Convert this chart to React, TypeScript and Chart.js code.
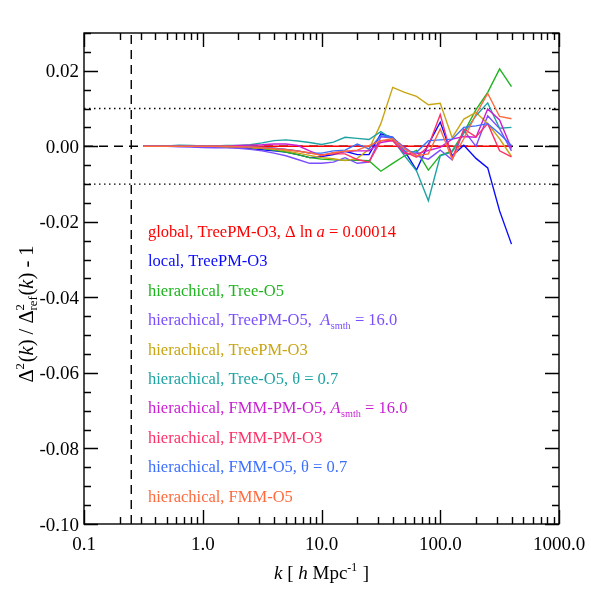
import React, { useEffect, useRef } from "react";
import { Chart, registerables } from "chart.js";

Chart.register(...registerables);

// k [h/Mpc] sampling of the measured ratios
const kValues = [
  0.316, 0.398, 0.501, 0.631, 0.794, 1.0, 1.26, 1.58, 2.0, 2.51, 3.16, 3.98, 5.01, 6.31, 7.94, 10.0,
  12.6, 15.8, 20.0, 25.1, 31.6, 39.8, 50.1, 63.1, 79.4, 100.0, 126.0, 158.0, 200.0, 251.0, 316.0, 398.0,
];

const globalTreePMO3 = [
  0, 0, 0, 0, 0, 0, 0, 0, 0, 0, 0, 0, 0, 0, 0, 0,
  0, 0, 0, 0, 0, 0, 0, 0, 0, 0, 0, 0, 0, 0, 0, 0,
];
const localTreePMO3 = [
  0, 0, 0, 0, 0, -0.0001, -0.0001, -0.0002, -0.0003, -0.0006, -0.0009, -0.0012, -0.0015, -0.0022, -0.003, -0.0027,
  -0.0022, -0.0013, -0.0022, -0.0022, 0.0033, 0.0024, -0.0012, -0.0063, 0.0005, 0.0064, -0.0025, 0.0003, -0.0032, -0.0057, -0.0171, -0.0259,
];
const hierTreeO5 = [
  0, 0, 0, 0, 0, 0, -0.0001, -0.0001, -0.0002, -0.0003, -0.0006, -0.001, -0.0015, -0.0022, -0.003, -0.0034,
  -0.0036, -0.0037, -0.0037, -0.0038, -0.0066, -0.0045, -0.0025, -0.0011, -0.0063, -0.0024, -0.0012, 0.0037, 0.0097, 0.0143, 0.0205, 0.0158,
];
const hierTreePMO5 = [
  0, 0, 0, -0.0001, -0.0002, -0.0003, -0.0004, -0.0004, -0.0005, -0.0008, -0.0012, -0.0018, -0.0025, -0.0035, -0.0045, -0.0045,
  -0.0042, -0.003, -0.0045, -0.0042, 0.0025, 0.0022, -0.0003, -0.0025, -0.0034, -0.001, -0.0036, 0.0042, 0.0, 0.0081, 0.0047, -0.0012,
];
const hierTreePMO3 = [
  0, 0, 0, 0, 0, 0, 0, -0.0001, -0.0002, -0.0003, -0.0005, -0.0008, -0.0012, -0.0018, -0.0024, -0.003,
  -0.0033, -0.0038, -0.0032, -0.0008, 0.006, 0.0156, 0.0143, 0.0132, 0.011, 0.0114, 0.0023, 0.0072, 0.009, 0.006, 0.002, -0.0027,
];
const hierTreeO5Theta = [
  0, 0, 0.0001, 0.0003, 0.0002, 0.0001, 0.0001, 0.0002, 0.0002, 0.0004, 0.0009, 0.0015, 0.0017, 0.0014, 0.001, 0.0005,
  0.0011, 0.0024, 0.0021, 0.0018, 0.0039, 0.0018, -0.0025, -0.0065, -0.0144, -0.0025, -0.0015, 0.0035, 0.0081, 0.0115, 0.0048, 0.005,
];
const hierFMMPMO5 = [
  0, 0, 0, 0, 0, 0, 0, 0.0001, 0.0002, 0.0003, 0.0004, 0.0006, 0.0006, 0.0002, -0.0012, -0.0025,
  -0.0017, -0.0014, -0.0012, -0.0012, 0.001, 0.0015, -0.0019, -0.002, -0.0011, -0.0003, 0.0019, 0.0026, 0.0024, 0.0099, 0.007, -0.0006,
];
const hierFMMPMO3 = [
  0, 0, 0, 0, 0, 0, 0, 0, -0.0001, -0.0002, -0.0003, -0.0005, -0.0008, -0.0012, -0.0018, -0.0022,
  -0.002, -0.002, -0.0035, -0.0042, 0.0015, 0.0015, -0.0015, -0.0029, 0.0, 0.0084, -0.0032, 0.0046, 0.0025, 0.006, -0.0012, -0.0028,
];
const hierFMMO5Theta = [
  0, 0, 0, 0, 0, 0, 0, 0, -0.0001, -0.0002, -0.0003, -0.0005, -0.0008, -0.0012, -0.0018, -0.0018,
  -0.0012, -0.001, 0.0006, -0.0007, 0.0028, 0.0024, -0.0012, -0.0016, 0.0015, 0.0017, 0.0019, 0.005, 0.0054, 0.006, 0.0033, 0.0002,
];
const hierFMMO5 = [
  0, 0, 0, 0, 0, 0, 0, 0, -0.0001, -0.0002, -0.0004, -0.0006, -0.0009, -0.0013, -0.0017, -0.0024,
  -0.0017, -0.0013, -0.001, 0.0002, 0.0015, 0.002, -0.0007, -0.0025, -0.002, 0.0046, -0.0034, 0.002, 0.0085, 0.014, 0.0079, 0.0073,
];

const seriesValues = [
  globalTreePMO3, localTreePMO3, hierTreeO5, hierTreePMO5, hierTreePMO3,
  hierTreeO5Theta, hierFMMPMO5, hierFMMPMO3, hierFMMO5Theta, hierFMMO5,
];
const seriesColors = [
  "#ff0000", "#0a0aff", "#1fb41f", "#7a4dff", "#c9a512",
  "#1fa3a3", "#c81fd2", "#ff2f66", "#3d6fff", "#ff6a3d",
];

type Seg = { t: string; it?: boolean; sup?: string; sub?: string };

const legendLabels: Seg[][] = [
  [{ t: "global, TreePM-O3, \u0394 ln " }, { t: "a", it: true }, { t: " = 0.00014" }],
  [{ t: "local, TreePM-O3" }],
  [{ t: "hierachical, Tree-O5" }],
  [{ t: "hierachical, TreePM-O5,  " }, { t: "A", it: true, sub: "smth" }, { t: " = 16.0" }],
  [{ t: "hierachical, TreePM-O3" }],
  [{ t: "hierachical, Tree-O5, \u03b8 = 0.7" }],
  [{ t: "hierachical, FMM-PM-O5, " }, { t: "A", it: true, sub: "smth" }, { t: " = 16.0" }],
  [{ t: "hierachical, FMM-PM-O3" }],
  [{ t: "hierachical, FMM-O5, \u03b8 = 0.7" }],
  [{ t: "hierachical, FMM-O5" }],
];

const yTickValues = [0.02, 0.0, -0.02, -0.04, -0.06, -0.08, -0.1];
const yTickLabels = ["0.02", "0.00", "-0.02", "-0.04", "-0.06", "-0.08", "-0.10"];
const xTickValues = [0.1, 1, 10, 100, 1000];
const xTickLabels = ["0.1", "1.0", "10.0", "100.0", "1000.0"];

const xTitle: Seg[] = [{ t: "k", it: true }, { t: " [ " }, { t: "h", it: true }, { t: " Mpc", sup: "-1" }, { t: " ]" }];
const yTitle: Seg[] = [
  { t: "\u0394", sup: "2" }, { t: "(" }, { t: "k", it: true }, { t: ") / \u0394", sup: "2", sub: "ref" },
  { t: "(" }, { t: "k", it: true }, { t: ") - 1" },
];

const refLineX = 0.25;
const refDotted = [0.01, -0.01];

const FAMILY = '"Liberation Serif", "Times New Roman", serif';
const fontOf = (size: number, it?: boolean) => `${it ? "italic " : ""}${size}px ${FAMILY}`;

function segWidth(ctx: CanvasRenderingContext2D, s: Seg, size: number) {
  ctx.font = fontOf(size, s.it);
  const w = ctx.measureText(s.t).width;
  ctx.font = fontOf(size * 0.62);
  const ws = Math.max(s.sup ? ctx.measureText(s.sup).width : 0, s.sub ? ctx.measureText(s.sub).width : 0);
  return w + (ws ? ws + size * 0.04 : 0);
}

function drawRich(
  ctx: CanvasRenderingContext2D, segs: Seg[], x: number, y: number, size: number, color: string,
  align: "left" | "center"
) {
  const total = segs.reduce((a, s) => a + segWidth(ctx, s, size), 0);
  let cx = align === "center" ? x - total / 2 : x;
  ctx.fillStyle = color;
  ctx.textAlign = "left";
  ctx.textBaseline = "alphabetic";
  for (const s of segs) {
    ctx.font = fontOf(size, s.it);
    ctx.fillText(s.t, cx, y);
    const w = ctx.measureText(s.t).width;
    const sx = cx + w + (s.it ? size * 0.03 : 0);
    ctx.font = fontOf(size * 0.62);
    if (s.sup) ctx.fillText(s.sup, sx, y - size * 0.42);
    if (s.sub) ctx.fillText(s.sub, sx, y + size * 0.2);
    cx += segWidth(ctx, s, size);
  }
}

const framePlugin = {
  id: "idlFrame",
  afterDraw(chart: any) {
    const ctx: CanvasRenderingContext2D = chart.ctx;
    const { left, right, top, bottom } = chart.chartArea;
    const xs = chart.scales.x;
    const ys = chart.scales.y;
    ctx.save();
    ctx.strokeStyle = "#000";
    ctx.lineWidth = 1.4;
    ctx.strokeRect(left, top, right - left, bottom - top);

    // y ticks (left and right, pointing inward)
    for (let v = -0.1; v <= 0.03001; v += 0.005) {
      const yy = Math.round(ys.getPixelForValue(v)) + 0.5;
      const major = Math.abs(Math.round(v * 1000) % 20) === 0;
      const len = major ? 14 : 7;
      ctx.beginPath();
      ctx.moveTo(left, yy); ctx.lineTo(left + len, yy);
      ctx.moveTo(right, yy); ctx.lineTo(right - len, yy);
      ctx.stroke();
    }
    // x ticks (top and bottom, log)
    for (let d = 0.1; d < 1000.5; d *= 10) {
      for (let m = 1; m <= 9; m++) {
        const v = d * m;
        if (v > 1000.5) break;
        const xx = Math.round(xs.getPixelForValue(v)) + 0.5;
        const len = m === 1 ? 14 : 7;
        ctx.beginPath();
        ctx.moveTo(xx, bottom); ctx.lineTo(xx, bottom - len);
        ctx.moveTo(xx, top); ctx.lineTo(xx, top + len);
        ctx.stroke();
      }
    }

    // tick labels
    ctx.fillStyle = "#000";
    ctx.font = fontOf(19);
    ctx.textAlign = "right";
    ctx.textBaseline = "alphabetic";
    yTickValues.forEach((v, i) => {
      ctx.fillText(yTickLabels[i], left - 5, ys.getPixelForValue(v) + 6.5);
    });
    ctx.textAlign = "center";
    xTickValues.forEach((v, i) => {
      ctx.fillText(xTickLabels[i], xs.getPixelForValue(v), bottom + 25.5);
    });

    // axis titles
    drawRich(ctx, xTitle, (left + right) / 2, bottom + 55, 19, "#000", "center");
    ctx.save();
    ctx.translate(33, 314);
    ctx.rotate(-Math.PI / 2);
    drawRich(ctx, yTitle, 0, 0, 20.5, "#000", "center");
    ctx.restore();

    // legend text
    legendLabels.forEach((segs, i) => {
      drawRich(ctx, segs, 148, 231.5 + 29.4 * i + 5.5, 16.5, seriesColors[i], "left");
    });
    ctx.restore();
  },
};

export default function App() {
  const canvasRef = useRef<HTMLCanvasElement | null>(null);

  useEffect(() => {
    document.body.style.margin = "0";
    document.body.style.overflow = "hidden";
    const canvas = canvasRef.current;
    if (!canvas) return;

    const dataSets: any[] = seriesValues.map((vals, i) => ({
      data: kValues.map((k, j) => ({ x: k, y: vals[j] })),
      borderColor: seriesColors[i],
      borderWidth: 1.4,
      pointRadius: 0,
      fill: false,
      tension: 0,
      order: 20 - i,
    }));
    dataSets.push({
      data: [{ x: 0.1, y: 0 }, { x: 1000, y: 0 }],
      borderColor: "#000", borderWidth: 1.4, borderDash: [9, 6], pointRadius: 0, order: 100,
    });
    dataSets.push({
      data: [{ x: refLineX, y: -0.1 }, { x: refLineX, y: 0.03 }],
      borderColor: "#000", borderWidth: 1.4, borderDash: [9, 6], pointRadius: 0, order: 100,
    });
    refDotted.forEach((v) =>
      dataSets.push({
        data: [{ x: 0.1, y: v }, { x: 1000, y: v }],
        borderColor: "#000", borderWidth: 1.4, borderDash: [1.5, 3.5], pointRadius: 0, order: 100,
      })
    );

    const chart = new Chart(canvas, {
      type: "line",
      data: { datasets: dataSets },
      options: {
        responsive: false,
        animation: false,
        layout: { padding: { left: 84, right: 32, top: 33, bottom: 67 } },
        plugins: { legend: { display: false }, tooltip: { enabled: false } },
        scales: {
          x: { type: "logarithmic", min: 0.1, max: 1000, display: false },
          y: { type: "linear", min: -0.1, max: 0.03, display: false },
        },
        elements: { point: { radius: 0 }, line: { tension: 0 } },
      },
      plugins: [framePlugin],
    } as any);

    return () => chart.destroy();
  }, []);

  return (
    <div style={{ width: 591, height: 591, background: "#fff" }}>
      <canvas ref={canvasRef} width={591} height={591} style={{ width: 591, height: 591, display: "block" }} />
    </div>
  );
}
